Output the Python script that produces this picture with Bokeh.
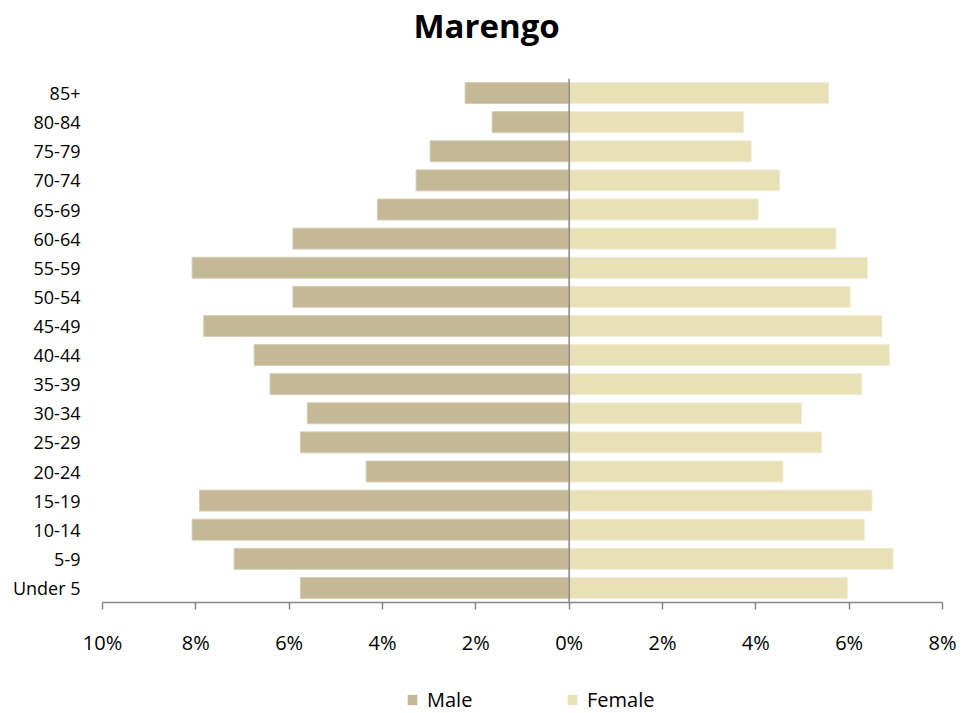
from bokeh.plotting import figure
from bokeh.layouts import column
from bokeh.models import (ColumnDataSource, FactorRange, Range1d, FixedTicker, Span,
                          Title, Legend, LegendItem)
from bokeh.embed import file_html
from bokeh.resources import INLINE

chart_title = "Marengo"
age_groups = ["Under 5", "5-9", "10-14", "15-19", "20-24", "25-29", "30-34", "35-39",
              "40-44", "45-49", "50-54", "55-59", "60-64", "65-69", "70-74", "75-79",
              "80-84", "85+"]
male = [5.76, 7.18, 8.08, 7.92, 4.35, 5.76, 5.61, 6.41, 6.75, 7.83, 5.92, 8.08, 5.92,
        4.11, 3.28, 2.98, 1.65, 2.23]
female = [5.96, 6.94, 6.33, 6.49, 4.58, 5.41, 4.98, 6.27, 6.86, 6.70, 6.02, 6.39, 5.72,
          4.05, 4.51, 3.90, 3.74, 5.56]
tick_values = [-10, -8, -6, -4, -2, 0, 2, 4, 6, 8]
tick_labels = ["10%", "8%", "6%", "4%", "2%", "0%", "2%", "4%", "6%", "8%"]
series_names = ["Male", "Female"]

MALE_COLOR = "#C4B897"
FEMALE_COLOR = "#E8E1B8"
AXIS_COLOR = "#868686"
FONT = "Open Sans"

source = ColumnDataSource(dict(
    age=age_groups,
    male_left=[-v for v in male],
    female_right=female,
))


def blank_strip(height, y_factors):
    f = figure(width=974, height=height, output_backend="svg", toolbar_location=None,
               x_range=Range1d(-10, 8), y_range=FactorRange(factors=y_factors),
               min_border_left=0, min_border_right=0, min_border_top=0, min_border_bottom=0)
    f.axis.visible = False
    f.grid.visible = False
    f.outline_line_color = None
    return f


# Title strip
p0 = blank_strip(78, series_names)
p0.hbar(y="age", left="male_left", right=0, height=0.72, source=source,
        fill_color=MALE_COLOR, line_color=None)
p0.add_layout(Title(text=chart_title, align="left", offset=311, text_font=FONT,
                    text_font_size="33px", text_font_style="bold", text_color="#000000",
                    standoff=0), "above")

# Main chart
p = figure(width=974, height=582, output_backend="svg", toolbar_location=None,
           y_range=FactorRange(factors=age_groups, range_padding=0),
           x_range=Range1d(-10, 8),
           min_border_left=102, min_border_right=32, min_border_top=0, min_border_bottom=58)
p.outline_line_color = None
p.xgrid.visible = False
p.ygrid.visible = False

r_m = p.hbar(y="age", left="male_left", right=0, height=0.72, source=source,
             fill_color=MALE_COLOR, line_color="#D6CDB2", line_width=1)
r_f = p.hbar(y="age", left=0, right="female_right", height=0.72, source=source,
             fill_color=FEMALE_COLOR, line_color="#F1ECD3", line_width=1)

p.add_layout(Span(location=0, dimension="height", line_color=AXIS_COLOR, line_width=1.5))

xa = p.xaxis[0]
xa.ticker = FixedTicker(ticks=tick_values)
xa.major_label_overrides = {v: l for v, l in zip(tick_values, tick_labels)}
xa.axis_line_color = AXIS_COLOR
xa.axis_line_width = 1.5
xa.major_tick_line_color = AXIS_COLOR
xa.major_tick_line_width = 1.5
xa.major_tick_in = 0
xa.major_tick_out = 7
xa.minor_tick_line_color = None
xa.major_label_text_font = FONT
xa.major_label_text_font_size = "20px"
xa.major_label_text_color = "#000000"
xa.major_label_standoff = 19

ya = p.yaxis[0]
ya.axis_line_color = None
ya.major_tick_line_color = None
ya.minor_tick_line_color = None
ya.major_tick_out = 0
ya.major_tick_in = 0
ya.major_label_text_font = FONT
ya.major_label_text_font_size = "18px"
ya.major_label_text_color = "#000000"
ya.major_label_standoff = 22

# Legend strip below the chart (renderers share the data but draw nothing here)
p2 = blank_strip(53, series_names)
lm = p2.hbar(y="age", left="male_left", right=0, height=0.72, source=source,
             fill_color=MALE_COLOR, line_color=None)
lf = p2.hbar(y="age", left=0, right="female_right", height=0.72, source=source,
             fill_color=FEMALE_COLOR, line_color=None)

legend = Legend(items=[LegendItem(label=series_names[0], renderers=[lm]),
                       LegendItem(label=series_names[1], renderers=[lf])],
                orientation="horizontal", location=(304, 0),
                glyph_width=12, glyph_height=13, label_standoff=9,
                label_width=139, spacing=0, padding=0, margin=0,
                label_text_font=FONT, label_text_font_size="20px",
                label_text_color="#000000",
                border_line_color=None, background_fill_alpha=0)
p2.add_layout(legend, "center")

layout = column(p0, p, p2, spacing=0)
open("out.html", "w").write(file_html(layout, INLINE))
